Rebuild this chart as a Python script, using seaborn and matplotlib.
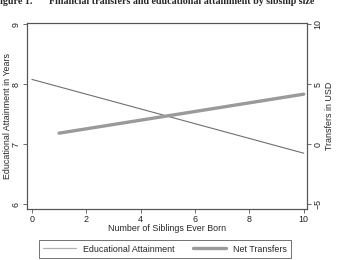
import matplotlib
matplotlib.use("Agg")
import matplotlib.pyplot as plt
import seaborn as sns
import pandas as pd
from matplotlib.lines import Line2D

siblings_edu = [0, 10]
edu_years = [8.08, 6.85]
siblings_tr = [1, 10]
transfers_usd = [0.92, 4.17]

x_ticks = [0, 2, 4, 6, 8, 10]
left_ticks = [6, 7, 8, 9]
right_ticks = [-5, 0, 5, 10]

sns.set_style("white")
plt.rcParams['font.family'] = ['Liberation Sans', 'DejaVu Sans']
fs = 6.4

edu = pd.DataFrame({"sib": siblings_edu, "val": edu_years})
tr = pd.DataFrame({"sib": siblings_tr, "val": transfers_usd})

fig = plt.figure(figsize=(3.42, 2.60), dpi=100)
ax = fig.add_axes([27/342, 1 - 209/260, 280/342, 186/260])
ax2 = ax.twinx()

sns.lineplot(data=edu, x="sib", y="val", ax=ax, color="#707070", lw=0.8)
sns.lineplot(data=tr, x="sib", y="val", ax=ax2, color="#9a9a9a", lw=2.4)

ax.set_xlim(-0.18, 10.12)
ax.set_ylim(5.92, 9.02)
ax2.set_ylim(5 * (5.92 - 7), 5 * (9.02 - 7))

ax.set_xticks(x_ticks)
ax.set_yticks(left_ticks)
ax2.set_yticks(right_ticks)

frame_col = "#555555"
for a in (ax, ax2):
    for s in a.spines.values():
        s.set_color(frame_col)
        s.set_linewidth(0.8)
    a.tick_params(colors="#222222", length=3, width=0.6, pad=1.5, labelsize=fs)
    a.tick_params(axis="both", color=frame_col)

for lab in ax.get_yticklabels() + ax2.get_yticklabels():
    lab.set_rotation(90)
    lab.set_va("center")
ax.tick_params(axis="x", bottom=True)
ax.tick_params(axis="y", left=True)
ax2.tick_params(axis="y", right=True)

ax.set_xlabel("Number of Siblings Ever Born", fontsize=fs, va="center")
ax.xaxis.set_label_coords(0.5, -0.1075)
ax.set_ylabel("Educational Attainment in Years", fontsize=fs, va="center")
ax.yaxis.set_label_coords(-0.071, 0.5)
ax2.set_ylabel("Transfers in USD", fontsize=fs, rotation=90, va="center")
ax2.yaxis.set_label_coords(1.079, 0.5)

handles = [Line2D([], [], color="#b0b0b0", lw=0.9),
           Line2D([], [], color="#9a9a9a", lw=2.4)]
leg = fig.legend(handles, ["Educational Attainment", "Net Transfers"],
                 loc="lower center", bbox_to_anchor=(165/342, 2/260), ncol=2,
                 frameon=True, fancybox=False, fontsize=fs, handlelength=3.7,
                 handletextpad=0.8, columnspacing=2.0, borderpad=0.5,
                 borderaxespad=0)
leg.get_frame().set_edgecolor("#333333")
leg.get_frame().set_linewidth(0.6)

fig.text(-6/342, 1 - 3.5/260, "Figure 1.", family="Liberation Serif",
         weight="bold", fontsize=7.2, va="baseline")
fig.text(49/342, 1 - 3.5/260,
         "Financial transfers and educational attainment by sibship size",
         family="Liberation Serif", weight="bold", fontsize=7.2, va="baseline")

fig.savefig("out.png", dpi=100)
